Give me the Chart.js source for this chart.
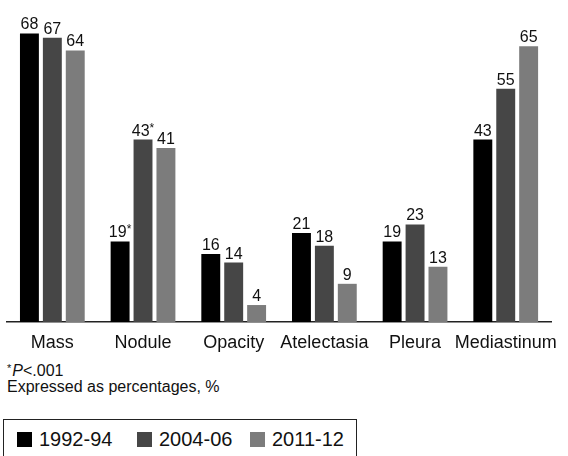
<!DOCTYPE html>
<html>
<head>
<meta charset="utf-8">
<script src="https://cdn.jsdelivr.net/npm/chart.js@4.4.1/dist/chart.umd.min.js"></script>
<style>
  html, body { margin: 0; padding: 0; background: #fff; overflow: hidden; }
  body { width: 568px; height: 456px; position: relative; font-family: "Liberation Sans", Arial, Helvetica, sans-serif; color: #111; }
  #chart { position: absolute; left: 0; top: 0; }
  .note { position: absolute; left: 7px; font-size: 16px; line-height: 16px; white-space: nowrap; }
  .note sup { font-size: 11px; vertical-align: 0; position: relative; top: -4px; margin-right: 1px; }
  #legend { position: absolute; left: 3px; top: 419px; width: 354px; height: 60px; border: 1.5px solid #222; box-sizing: border-box; }
  .item { position: absolute; top: 7px; font-size: 20px; line-height: 24px; white-space: nowrap; }
  .item span.box { position: absolute; left: 0; top: 5px; width: 15px; height: 15px; }
  .item span.txt { position: absolute; left: 22px; top: 0; }
</style>
</head>
<body>
<canvas id="chart" width="568" height="360"></canvas>
<div class="note" style="top:363px"><sup>*</sup><i>P</i>&lt;.001</div>
<div class="note" style="top:379px">Expressed as percentages, %</div>
<div id="legend"></div>
<script>
// findings by period, in percent
const categories = ["Mass", "Nodule", "Opacity", "Atelectasia", "Pleura", "Mediastinum"];
const periods = ["1992-94", "2004-06", "2011-12"];
const values9294 = [68, 19, 16, 21, 19, 43];
const values0406 = [67, 43, 14, 18, 23, 55];
const values1112 = [64, 41, 4, 9, 13, 65];
// 1 = marked with * (P<.001)
const star9294 = [0, 1, 0, 0, 0, 0];
const star0406 = [0, 1, 0, 0, 0, 0];
const star1112 = [0, 0, 0, 0, 0, 0];
const colors = ["#000000", "#464646", "#7c7c7c"];

const FONT = '"Liberation Sans", Arial, Helvetica, sans-serif';

const valueLabels = {
  id: "valueLabels",
  afterDatasetsDraw(chart) {
    const ctx = chart.ctx;
    ctx.save();
    ctx.fillStyle = "#111";
    ctx.textBaseline = "alphabetic";
    chart.data.datasets.forEach((ds, i) => {
      const meta = chart.getDatasetMeta(i);
      meta.data.forEach((bar, j) => {
        const txt = String(ds.data[j]);
        ctx.font = "16px " + FONT;
        const w = ctx.measureText(txt).width;
        let starW = 0;
        if (ds.stars[j]) {
          ctx.font = "12px " + FONT;
          starW = ctx.measureText("*").width;
        }
        const x0 = bar.x - (w + starW) / 2;
        const y = bar.y - 4;
        ctx.font = "16px " + FONT;
        ctx.textAlign = "left";
        ctx.fillText(txt, x0, y);
        if (ds.stars[j]) {
          ctx.font = "12px " + FONT;
          ctx.fillText("*", x0 + w, y - 4);
        }
      });
    });
    ctx.restore();
  }
};

const chart = new Chart(document.getElementById("chart"), {
  type: "bar",
  data: {
    labels: categories,
    datasets: [
      { label: periods[0], data: values9294, stars: star9294, backgroundColor: colors[0] },
      { label: periods[1], data: values0406, stars: star0406, backgroundColor: colors[1] },
      { label: periods[2], data: values1112, stars: star1112, backgroundColor: colors[2] }
    ]
  },
  options: {
    responsive: false,
    animation: false,
    categoryPercentage: 0.758,
    barPercentage: 0.826,
    layout: { padding: { left: 7, right: 15, top: 25, bottom: 0 } },
    plugins: {
      legend: { display: false },
      tooltip: { enabled: false }
    },
    scales: {
      y: { display: false, min: 0, max: 70 },
      x: {
        grid: { display: false, drawTicks: false },
        border: { display: true, color: "#222", width: 1.5 },
        ticks: {
          color: "#111", padding: 10, autoSkip: false,
          maxRotation: 0, minRotation: 0,
          font: { family: FONT, size: 18 }
        },
        afterFit(scale) { scale.height = 38; }
      }
    }
  },
  plugins: [valueLabels]
});

// legend built from the chart's own legend items
const legendEl = document.getElementById("legend");
const itemLeft = [13, 133, 246];
chart.options.plugins.legend.labels.generateLabels(chart).forEach((it, i) => {
  const d = document.createElement("div");
  d.className = "item";
  d.style.left = itemLeft[i] + "px";
  d.innerHTML = '<span class="box" style="background:' + it.fillStyle + '"></span><span class="txt">' + it.text + "</span>";
  legendEl.appendChild(d);
});
</script>
</body>
</html>
